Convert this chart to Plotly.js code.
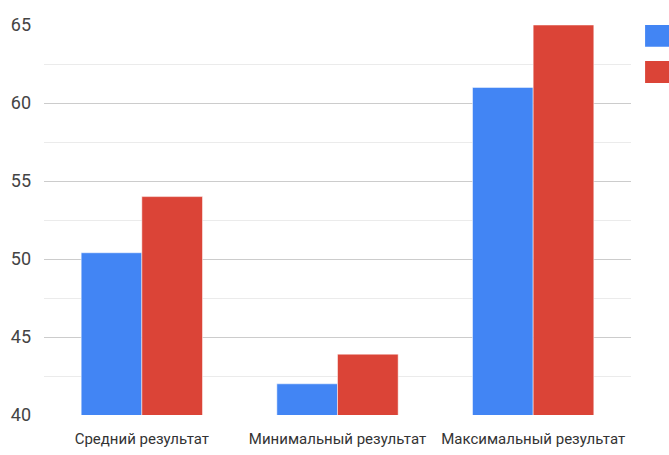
<!DOCTYPE html>
<html>
<head>
<meta charset="utf-8">
<script src="https://cdn.plot.ly/plotly-3.0.1.min.js"></script>
<style>
html,body{margin:0;padding:0;background:#fff;overflow:hidden;}
#chart{width:669px;height:455px;}
</style>
</head>
<body>
<div id="chart"></div>
<script>
const categories = ["Средний результат", "Минимальный результат", "Максимальный результат"];
const seriesA = [50.4, 42.0, 61.0];
const seriesB = [54.0, 43.9, 65.0];
const yTicks = [40, 45, 50, 55, 60, 65];
const colorA = "#4285F4";
const colorB = "#DB4437";
const FONT = "Roboto, 'Liberation Sans Narrow', sans-serif";

const traces = [
  {type: "bar", x: categories, y: seriesA, marker: {color: colorA, line: {color: "#ffffff", width: 0.5}}, hoverinfo: "none"},
  {type: "bar", x: categories, y: seriesB, marker: {color: colorB, line: {color: "#ffffff", width: 0.5}}, hoverinfo: "none"}
];

const layout = {
  width: 669, height: 455,
  margin: {l: 44, r: 38, t: 25, b: 40},
  paper_bgcolor: "#ffffff", plot_bgcolor: "#ffffff",
  barmode: "group", bargap: 0.38, bargroupgap: 0,
  showlegend: false,
  font: {family: FONT, size: 17, color: "#444444"},
  xaxis: {
    showgrid: false, zeroline: false, showline: false,
    ticks: "", tickangle: 0, tickfont: {family: FONT, size: 15, color: "#333333"},
    ticklabelstandoff: 13
  },
  yaxis: {
    range: [40, 65], tickvals: yTicks, ticktext: yTicks.map(String),
    showgrid: true, gridcolor: "#cccccc", gridwidth: 1,
    zeroline: false, showline: false, ticks: "",
    tickfont: {family: FONT, size: 18, color: "#444444"},
    ticklabelstandoff: 12,
    minor: {dtick: 2.5, showgrid: true, gridcolor: "#ebebeb", gridwidth: 1, ticks: ""}
  },
  shapes: [
    {type: "rect", xref: "paper", yref: "paper", x0: 1.024, x1: 1.08, y0: 0.944, y1: 1.0, fillcolor: colorA, line: {width: 0}},
    {type: "rect", xref: "paper", yref: "paper", x0: 1.024, x1: 1.08, y0: 0.851, y1: 0.908, fillcolor: colorB, line: {width: 0}}
  ]
};

Plotly.newPlot("chart", traces, layout, {displayModeBar: false, staticPlot: true});
</script>
</body>
</html>
